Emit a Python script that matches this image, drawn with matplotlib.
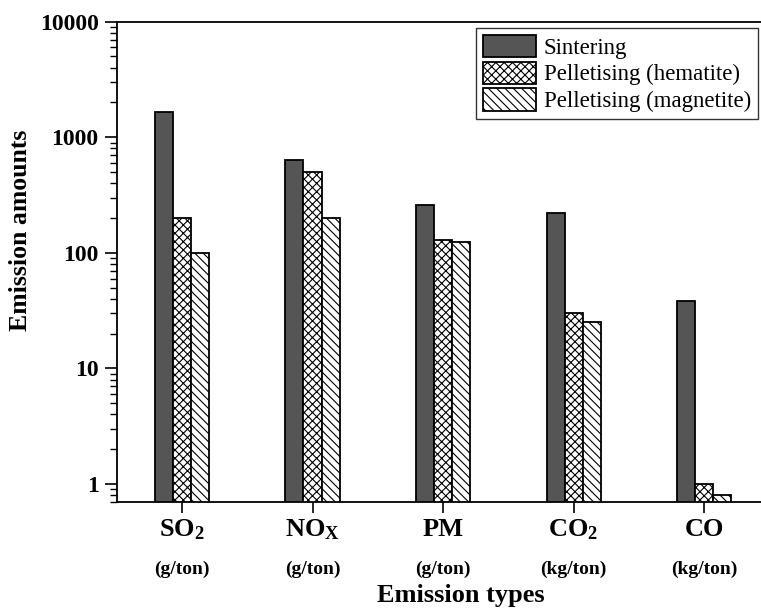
import matplotlib
matplotlib.use('Agg')
import matplotlib.pyplot as plt
import numpy as np

plt.rcParams['font.family'] = ['Liberation Serif', 'DejaVu Serif']
plt.rcParams['mathtext.fontset'] = 'custom'
plt.rcParams['mathtext.rm'] = 'Liberation Serif:bold'
plt.rcParams['mathtext.it'] = 'Liberation Serif:bold'
plt.rcParams['mathtext.bf'] = 'Liberation Serif:bold'
plt.rcParams['hatch.linewidth'] = 0.8

# emission data
pollutants = ['SO$_2$', 'NO$_\\mathrm{X}$', 'PM', 'CO$_2$', 'CO']
units = ['(g/ton)', '(g/ton)', '(g/ton)', '(kg/ton)', '(kg/ton)']
sintering = [1660, 635, 260, 220, 38]
pellet_hematite = [200, 500, 130, 30, 1.0]
pellet_magnetite = [100, 200, 125, 25, 0.8]

fig = plt.figure(figsize=(7.61, 6.09), dpi=100)
ax = fig.add_axes([0.1534, 0.1752, 0.8575, 0.7892])

x = np.arange(1, len(pollutants) + 1)
w = 0.138

ax.bar(x - w, sintering, w, color='#555555', edgecolor='black', linewidth=1.3, label='Sintering')
ax.bar(x, pellet_hematite, w, color='white', edgecolor='black', linewidth=1.3,
       hatch='xxxx', label='Pelletising (hematite)')
ax.bar(x + w, pellet_magnetite, w, color='white', edgecolor='black', linewidth=1.3,
       hatch='\\\\\\\\', label='Pelletising (magnetite)')

ax.set_yscale('log')
ax.set_ylim(0.695, 10000)
ax.set_xlim(0.5, 5.5)

ax.set_xticks(x)
ax.set_xticklabels(pollutants, fontsize=19, fontweight='bold')
ax.set_yticks([1, 10, 100, 1000, 10000])
ax.set_yticklabels(['1', '10', '100', '1000', '10000'], fontsize=17, fontweight='bold')
ax.tick_params(axis='x', direction='out', length=8, width=1.2, pad=3)
ax.tick_params(axis='y', which='major', direction='out', length=9, width=1.2, pad=4)
ax.tick_params(axis='y', which='minor', direction='out', length=5, width=1.0)

for i in range(len(units)):
    ax.annotate(units[i], xy=(x[i], 0), xycoords=('data', 'axes fraction'),
                xytext=(0, -48), textcoords='offset points',
                ha='center', va='center', fontsize=14, fontweight='bold')

ax.set_xlabel('Emission types', fontsize=19, fontweight='bold', va='center')
ax.xaxis.set_label_coords(0.528, -0.193)
ax.set_ylabel('Emission amounts', fontsize=18.5, fontweight='bold', va='center')
ax.yaxis.set_label_coords(-0.148, 0.565)

for s in ax.spines.values():
    s.set_linewidth(1.3)

leg = ax.legend(loc='upper right', bbox_to_anchor=(0.996, 0.954), bbox_transform=fig.transFigure,
                fontsize=16.5, frameon=True, fancybox=False, edgecolor='black',
                handlelength=2.3, handleheight=1.12, labelspacing=0.12,
                handletextpad=0.35, borderpad=0.3, borderaxespad=0)
leg.get_frame().set_linewidth(1.0)

fig.savefig('out.png', dpi=100)
